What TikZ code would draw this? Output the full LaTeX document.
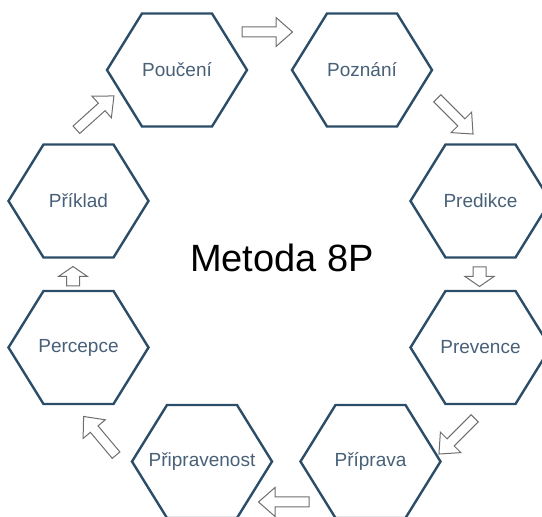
\documentclass[tikz,border=0pt]{standalone}
\usepackage{fontspec}
\setmainfont{Liberation Sans}
\usetikzlibrary{calc}
\definecolor{hexline}{RGB}{44,77,103}
\definecolor{hextxt}{RGB}{72,96,120}
\definecolor{arrline}{RGB}{110,110,110}
\tikzset{
  hexlabel/.style={font=\fontsize{19}{21}\selectfont, text=hextxt, inner sep=0pt},
  hexpath/.style={draw=hexline, line width=2.4pt, line join=miter, fill=white},
  arrpath/.style={draw=arrline, line width=1pt, fill=white, line join=miter},
  hexagon/.pic={\path[hexpath] (70,0) -- (35,56.5) -- (-35,56.5) -- (-70,0) -- (-35,-56.5) -- (35,-56.5) -- cycle;},
  bigarrow/.pic={\path[arrpath] (-25,-5) -- (9,-5) -- (9,-14.5) -- (25.5,0) -- (9,14.5) -- (9,5) -- (-25,5) -- cycle;},
  smallarrow/.pic={\path[arrpath] (-9.5,-6.5) -- (0,-6.5) -- (0,-14.5) -- (10,0) -- (0,14.5) -- (0,6.5) -- (-9.5,6.5) -- cycle;}
}
\begin{document}
\begin{tikzpicture}[x=1pt,y=1pt]
\useasboundingbox (0,0) rectangle (542,517);
% hexagons
\pic at (177,447) {hexagon};
\pic at (362,447) {hexagon};
\pic at (480.5,316) {hexagon};
\pic at (480.5,169.5) {hexagon};
\pic at (370.5,55.5) {hexagon};
\pic at (202,55.5) {hexagon};
\pic at (78.5,169.5) {hexagon};
\pic at (78.5,316) {hexagon};
% labels
\node[hexlabel] (pouceni) at (177,447) {Poučení};
\node[hexlabel] (poznani) at (362,447) {Poznání};
\node[hexlabel] (predikce) at (480.5,316) {Predikce};
\node[hexlabel] (prevence) at (480.5,169.5) {Prevence};
\node[hexlabel] (priprava) at (370.5,55.5) {Příprava};
\node[hexlabel] (pripravenost) at (202,55.5) {Připravenost};
\node[hexlabel] (percepce) at (78.5,169.5) {Percepce};
\node[hexlabel] (priklad) at (78.5,316) {Příklad};
% title
\node[font=\fontsize{38}{42}\selectfont, inner sep=0pt] (title) at (282,259) {Metoda 8P};
% block arrows
\pic[rotate=0] at (267,485) {bigarrow};
\pic[rotate=-45] at (455,401) {bigarrow};
\pic[rotate=-90] at (479.5,240.5) {smallarrow};
\pic[rotate=-135] at (457,81) {bigarrow};
\pic[rotate=180] at (284,15) {bigarrow};
\pic[rotate=130] at (100,81) {bigarrow};
\pic[rotate=90] at (73,240.5) {smallarrow};
\pic[rotate=42] at (95,404) {bigarrow};
\end{tikzpicture}
\end{document}
